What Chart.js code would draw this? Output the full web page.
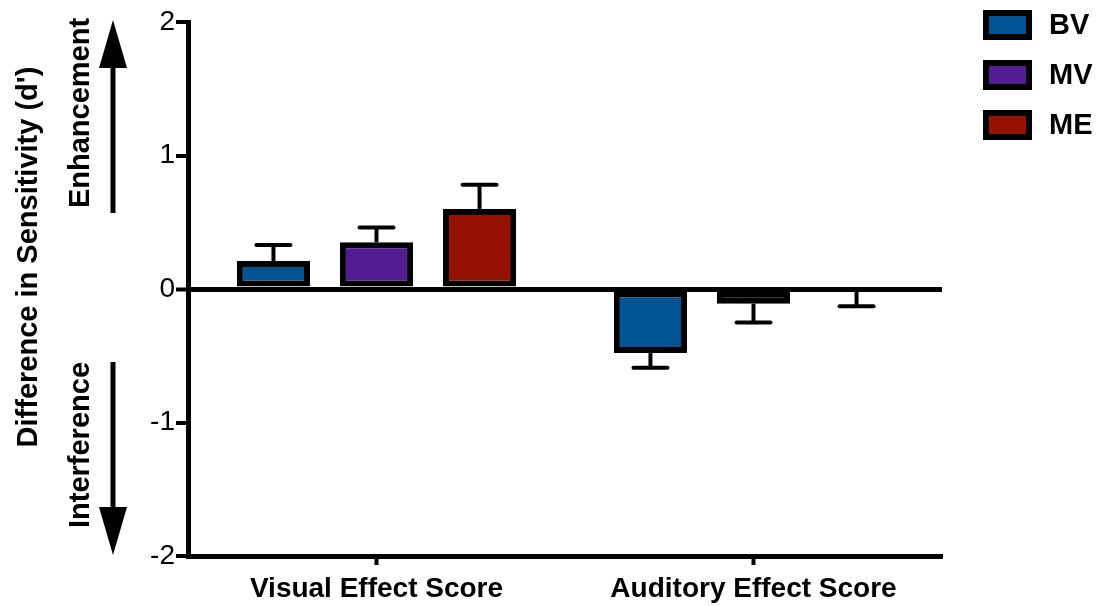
<!DOCTYPE html>
<html>
<head>
<meta charset="utf-8">
<script src="https://cdn.jsdelivr.net/npm/chart.js@4.4.1/dist/chart.umd.min.js"></script>
<style>
  html, body { margin: 0; padding: 0; background: #fff; }
  #wrap { width: 1099px; height: 606px; position: relative; }
</style>
</head>
<body>
<div id="wrap"><canvas id="c"></canvas></div>
<script>
// Categories and series (mean difference in d', with SEM)
const categories = ['Visual Effect Score', 'Auditory Effect Score'];
const seriesNames = ['BV', 'MV', 'ME'];
const bvValues = [0.21, -0.48];
const mvValues = [0.35, -0.11];
const meValues = [0.60, -0.01];
const bvErrors = [0.12, 0.11];
const mvErrors = [0.11, 0.14];
const meErrors = [0.18, 0.12];
const yTickValues = [-2, -1, 0, 1, 2];

const colors = ['rgb(0,84,148)', 'rgb(84,28,146)', 'rgb(150,18,0)'];
const FONT = '"Liberation Sans", Arial, sans-serif';

// Error bars drawn away from zero, with a horizontal cap
const errorBars = {
  id: 'errorBars',
  afterDatasetsDraw(chart) {
    const ctx = chart.ctx;
    const y = chart.scales.y;
    ctx.save();
    ctx.strokeStyle = '#000';
    ctx.lineWidth = 4;
    chart.data.datasets.forEach((ds, i) => {
      const meta = chart.getDatasetMeta(i);
      meta.data.forEach((bar, j) => {
        const v = ds.data[j];
        const e = ds.errors[j];
        const end = v >= 0 ? v + e : v - e;
        const y0 = y.getPixelForValue(v);
        const y1 = y.getPixelForValue(end);
        const half = 17;
        ctx.lineCap = 'butt';
        ctx.beginPath();
        ctx.moveTo(bar.x, y0);
        ctx.lineTo(bar.x, y1);
        ctx.stroke();
        ctx.lineCap = 'round';
        ctx.beginPath();
        ctx.moveTo(bar.x - half, y1);
        ctx.lineTo(bar.x + half, y1);
        ctx.stroke();
      });
    });
    ctx.restore();
  }
};

// Left-side titles with direction arrows, and the legend on the right
const decorations = {
  id: 'decorations',
  afterDraw(chart) {
    const ctx = chart.ctx;
    ctx.save();
    ctx.fillStyle = '#000';
    ctx.strokeStyle = '#000';
    ctx.font = 'bold 29px ' + FONT;
    ctx.textAlign = 'center';
    ctx.textBaseline = 'middle';

    const vtext = (t, x, y) => {
      ctx.save();
      ctx.translate(x, y);
      ctx.rotate(-Math.PI / 2);
      ctx.fillText(t, 0, 0);
      ctx.restore();
    };
    vtext("Difference in Sensitivity (d')", 29, 257);
    vtext('Enhancement', 81, 113);
    vtext('Interference', 81, 445);

    // arrows
    const ax = 113;
    ctx.lineWidth = 5;
    ctx.beginPath();
    ctx.moveTo(ax, 213); ctx.lineTo(ax, 60);
    ctx.moveTo(ax, 362); ctx.lineTo(ax, 515);
    ctx.stroke();
    ctx.beginPath();
    ctx.moveTo(ax, 20); ctx.lineTo(ax - 14, 68); ctx.lineTo(ax + 14, 68); ctx.closePath();
    ctx.fill();
    ctx.beginPath();
    ctx.moveTo(ax, 555); ctx.lineTo(ax - 14, 507); ctx.lineTo(ax + 14, 507); ctx.closePath();
    ctx.fill();

    // legend
    ctx.textAlign = 'left';
    ctx.font = 'bold 29px ' + FONT;
    chart.data.datasets.forEach((ds, i) => {
      const top = 10 + i * 50;
      ctx.fillStyle = '#000';
      ctx.fillRect(983, top, 49, 30);
      ctx.fillStyle = ds.backgroundColor;
      ctx.fillRect(989, top + 6, 37, 18);
      ctx.fillStyle = '#000';
      ctx.fillText(ds.label, 1049, top + 16);
    });
    ctx.restore();
  }
};

const mk = (label, data, errors, color) => ({
  label, data, errors,
  backgroundColor: color,
  borderColor: '#000',
  borderWidth: 6,
  borderSkipped: false,
  categoryPercentage: 0.82,
  barPercentage: 0.71
});

new Chart(document.getElementById('c'), {
  type: 'bar',
  data: {
    labels: categories,
    datasets: [
      mk(seriesNames[0], bvValues, bvErrors, colors[0]),
      mk(seriesNames[1], mvValues, mvErrors, colors[1]),
      mk(seriesNames[2], meValues, meErrors, colors[2])
    ]
  },
  options: {
    responsive: true,
    maintainAspectRatio: false,
    animation: false,
    layout: { padding: { left: 0, right: 157, top: 22, bottom: 0 } },
    plugins: { legend: { display: false }, tooltip: { enabled: false } },
    scales: {
      x: {
        grid: { display: true, drawOnChartArea: false, offset: false, tickLength: 9, tickWidth: 4, tickColor: '#000' },
        border: { display: true, color: '#000', width: 5 },
        ticks: { color: '#000', padding: 7, font: { family: FONT, size: 28, weight: 'bold' } },
        afterFit: s => { s.height = 50; }
      },
      y: {
        min: -2, max: 2,
        afterBuildTicks: s => { s.ticks = yTickValues.map(v => ({ value: v })); },
        grid: {
          drawOnChartArea: true,
          color: c => (c.tick && c.tick.value === 0) ? '#000' : 'rgba(0,0,0,0)',
          lineWidth: c => (c.tick && c.tick.value === 0) ? 5 : 0,
          tickLength: 12, tickWidth: 4, tickColor: '#000'
        },
        border: { display: true, color: '#000', width: 5 },
        ticks: { color: '#000', padding: 1, font: { family: FONT, size: 28 } },
        afterFit: s => { s.width = 188; }
      }
    }
  },
  plugins: [errorBars, decorations]
});
</script>
</body>
</html>
